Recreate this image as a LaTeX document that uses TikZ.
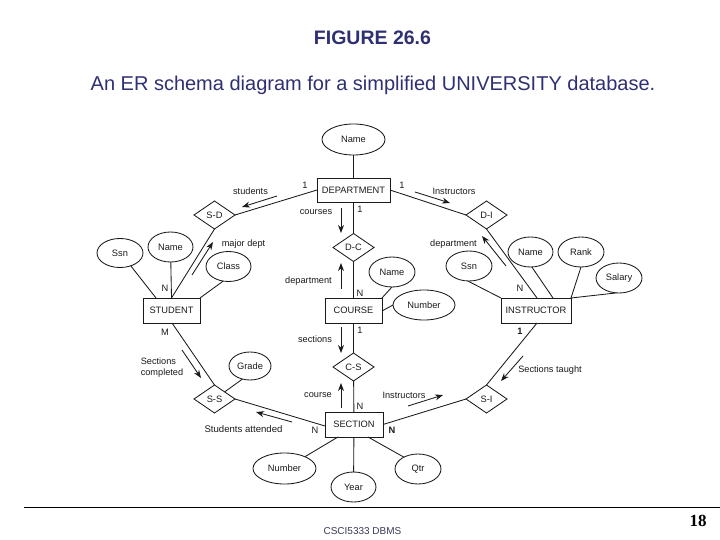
\documentclass[tikz,border=0pt]{standalone}
\usepackage{fontspec}
\setmainfont{Liberation Sans}
\newfontfamily\serifnum{Liberation Serif}
\usetikzlibrary{shapes.geometric,arrows.meta}
\definecolor{titleblue}{HTML}{2F2F73}
\definecolor{footgrey}{HTML}{3A3A55}
\definecolor{ink}{HTML}{1A1A1A}
\tikzset{
  every node/.style={font=\fontsize{9.3}{11}\selectfont,text=ink,inner sep=0pt,outer sep=0pt},
  ent/.style={draw=ink,line width=0.85pt,rectangle},
  attr/.style={draw=ink,line width=0.85pt,ellipse},
  rel/.style={draw=ink,line width=0.85pt,diamond},
  con/.style={draw=ink,line width=0.85pt},
  flow/.style={draw=ink,line width=0.85pt,-{Stealth[length=8pt,width=6pt]}},
  lab/.style={font=\fontsize{9.2}{11}\selectfont},
  labwide/.style={font=\fontsize{9.6}{11}\selectfont},
  card/.style={font=\fontsize{9.3}{11}\selectfont},
}
\newcommand{\entnode}[6]{\node[ent,minimum width=#4pt,minimum height=#5pt] (#1) at (#2,#3) {#6};}
\newcommand{\attrnode}[6]{\node[attr,minimum width=#4pt,minimum height=#5pt] (#1) at (#2,#3) {#6};}
\newcommand{\relnode}[4]{\node[rel,minimum width=41pt,minimum height=28pt] (#1) at (#2,#3) {#4};}
\begin{document}
\begin{tikzpicture}[x=1pt,y=-1pt]
\useasboundingbox (0,0) rectangle (720,540);
% title
\node[font=\fontsize{19.5}{22}\selectfont\bfseries,text=titleblue] (title) at (372.5,38) {FIGURE 26.6};
\node[font=\fontsize{20}{22}\selectfont,text=titleblue] (subtitle) at (373,85) {An ER schema diagram for a simplified UNIVERSITY database.};
% entities
\entnode{dept}{353.5}{190}{73}{24}{DEPARTMENT}
\entnode{student}{171.5}{310.5}{57}{25}{STUDENT}
\entnode{course}{353.5}{310.5}{57}{25}{COURSE}
\entnode{instr}{536}{310.5}{70}{25}{INSTRUCTOR}
\entnode{section}{354}{424.5}{58}{25}{SECTION}
% relationships
\relnode{sd}{214.5}{215}{S-D}
\relnode{dc}{353.5}{247.5}{D-C}
\relnode{di}{486.5}{215}{D-I}
\relnode{cs}{353.5}{367}{C-S}
\relnode{ss}{214.5}{399}{S-S}
\relnode{si}{486.5}{399}{S-I}
% attributes
\attrnode{dname}{353.5}{139.5}{63}{31}{Name}
\attrnode{ssan}{120}{253}{46}{29}{Ssn}
\attrnode{sname}{170.5}{247}{45}{30}{Name}
\attrnode{sclass}{228.5}{266.5}{45}{30}{Class}
\attrnode{cname}{392}{272}{46}{30}{Name}
\attrnode{cnum}{424}{305}{62}{30}{Number}
\attrnode{issn}{469}{266}{46}{30}{Ssn}
\attrnode{iname}{530.5}{252}{45}{30}{Name}
\attrnode{irank}{581}{252}{46}{30}{Rank}
\attrnode{isal}{619}{278}{46}{30}{Salary}
\attrnode{grade}{250}{366}{42}{28}{Grade}
\attrnode{snum}{284.5}{468.5}{63}{31}{Number}
\attrnode{year}{353.5}{487}{45}{30}{Year}
\attrnode{qtr}{418}{469}{46}{30}{Qtr}
% connectors
\draw[con] (dname) -- (dept);
\draw[con] (dept.west) -- (sd.east);
\draw[con] (dept.east) -- (di.west);
\draw[con] (dept) -- (dc);
\draw[con] (dc) -- (course);
\draw[con] (course) -- (cs);
\draw[con] (cs) -- (section);
\draw[con] (sd.south) -- ([xshift=28.5pt]student.north west);
\draw[con] (sname) -- (student.north);
\draw[con] (ssan.-50) -- ([xshift=13pt]student.north west);
\draw[con] (sclass.-110) -- (student.north east);
\draw[con] (di.south) -- ([xshift=36pt]instr.north west);
\draw[con] (issn.-95) -- (instr.north west);
\draw[con] (iname.-85) -- ([xshift=52pt]instr.north west);
\draw[con] (irank.-90) -- (instr.north east);
\draw[con] (isal.-100) -- (instr.north east);
\draw[con] (cname.-90) -- (course.north east);
\draw[con] (cnum.west) -- ([yshift=-0.5pt]course.east);
\draw[con] ([xshift=29pt]student.south west) -- (ss.north);
\draw[con] (ss.35) -- (grade.-120);
\draw[con] (ss.east) -- ([yshift=-1.5pt]section.west);
\draw[con] (section) -- (year);
\draw[con] ([xshift=13pt]section.south west) -- (snum.30);
\draw[con] ([xshift=43pt]section.south west) -- (qtr.140);
\draw[con] (section.east) -- (si.west);
\draw[con] ([xshift=36pt]instr.south west) -- (si.north);
% direction arrows
\coordinate (a1s) at (277,196); \coordinate (a1e) at (242,207);
\coordinate (a2s) at (192,275); \coordinate (a2e) at (213,242);
\coordinate (a3s) at (341,208); \coordinate (a3e) at (341,233);
\coordinate (a4s) at (341,289); \coordinate (a4e) at (341,263);
\coordinate (a5s) at (415,192); \coordinate (a5e) at (450,203);
\coordinate (a6s) at (506,266); \coordinate (a6e) at (482,236);
\coordinate (a7s) at (341,327); \coordinate (a7e) at (341,353);
\coordinate (a8s) at (341,408); \coordinate (a8e) at (341,383);
\coordinate (a9s) at (182,350); \coordinate (a9e) at (201,378);
\coordinate (a10s) at (292,422); \coordinate (a10e) at (256,412);
\coordinate (a11s) at (408,406); \coordinate (a11e) at (443,395);
\coordinate (a12s) at (523,356); \coordinate (a12e) at (501,381);
\foreach \i in {1,...,12} {\draw[flow] (a\i s) -- (a\i e);}
% role labels
\node[lab] (l1) at (250.5,191) {students};
\node[lab] (l2) at (243.5,244) {major dept};
\node[lab] (l3) at (316,212) {courses};
\node[lab] (l4) at (308.5,281) {department};
\node[lab] (l5) at (454,191) {Instructors};
\node[lab] (l6) at (453.5,244) {department};
\node[lab] (l7) at (315,339) {sections};
\node[lab] (l8) at (318,395) {course};
\node[lab,align=left] (l9) at (162,368) {Sections\\completed};
\node[labwide] (l10) at (243.5,429) {Students attended};
\node[lab] (l11) at (404,395) {Instructors};
\node[lab] (l12) at (550,370.5) {Sections taught};
% cardinalities
\node[card] (c1) at (305,185) {1};
\node[card] (c2) at (402,185) {1};
\node[card] (c3) at (360,209) {1};
\node[card] (c4) at (360,293) {N};
\node[card] (c5) at (165,288) {N};
\node[card] (c6) at (520,288) {N};
\node[card] (c7) at (165,332) {M};
\node[card] (c8) at (360,330) {1};
\node[card,font=\fontsize{9.3}{11}\selectfont\bfseries] (c9) at (520,331) {1};
\node[card] (c10) at (360,406) {N};
\node[card] (c11) at (315,430) {N};
\node[card,font=\fontsize{9.3}{11}\selectfont\bfseries] (c12) at (392,430) {N};
% footer
\coordinate (fl) at (24,507.5); \coordinate (fr) at (720,507.5);
\draw[black,line width=1pt] (fl) -- (fr);
\node[font=\fontsize{10}{12}\selectfont,text=footgrey] (foot) at (362.5,531) {CSCI5333 DBMS};
\node[font=\fontsize{17}{19}\selectfont\serifnum\bfseries,text=black] (page) at (698,521) {18};
\end{tikzpicture}
\end{document}
